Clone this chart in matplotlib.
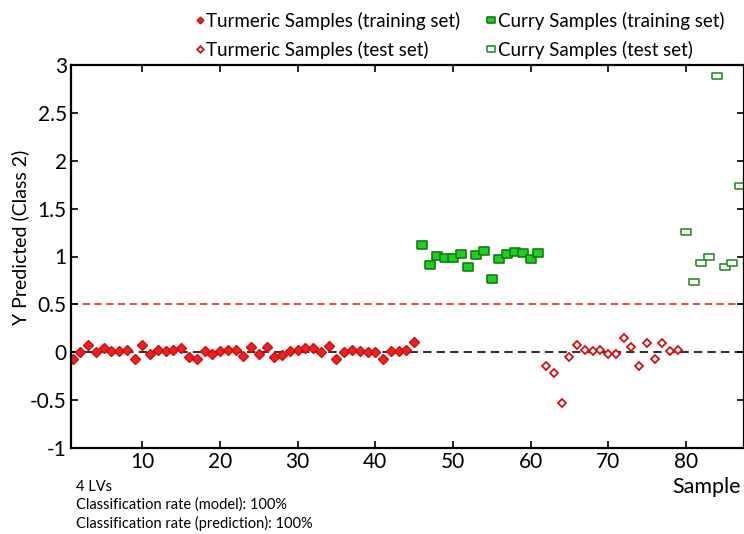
import numpy as np
import matplotlib
matplotlib.use('Agg')
import matplotlib.pyplot as plt
from matplotlib.ticker import MultipleLocator, FuncFormatter

plt.rcParams['font.family'] = ['Lato', 'DejaVu Sans']
plt.rcParams['axes.unicode_minus'] = False

# Kurkuma, Trainingsset (Proben 1-45)
tur_train_x = np.arange(1, 46)
tur_train_y = [-0.066, 0.0, 0.08, 0.0, 0.04, 0.014, 0.014, 0.02, -0.066, 0.073,
               -0.014, 0.028, 0.014, 0.028, 0.045, -0.049, -0.066, 0.014, -0.014, 0.014,
               0.028, 0.02, -0.038, 0.056, -0.02, 0.056, -0.049, -0.031, 0.014, 0.028,
               0.045, 0.04, 0.0, 0.066, -0.066, 0.0, 0.02, 0.01, 0.0, 0.0,
               -0.066, 0.01, 0.01, 0.028, 0.108]

# Curry, Trainingsset (Proben 46-61)
cur_train_x = np.arange(46, 62)
cur_train_y = [1.125, 0.909, 1.003, 0.989, 0.989, 1.023, 0.895, 1.016, 1.062, 0.77,
               0.971, 1.023, 1.048, 1.034, 0.971, 1.041]

# Kurkuma, Testset (Proben 62-79)
tur_test_x = np.arange(62, 80)
tur_test_y = [-0.143, -0.216, -0.526, -0.045, 0.08, 0.028, 0.01, 0.028, -0.021, -0.021,
              0.15, 0.056, -0.143, 0.101, -0.07, 0.094, 0.01, 0.02]

# Curry, Testset (Proben 80-87)
cur_test_x = np.arange(80, 88)
cur_test_y = [1.253, 0.731, 0.93, 0.999, 2.89, 0.895, 0.937, 1.737]

x_ticks = [10, 20, 30, 40, 50, 60, 70, 80]

# Rechteck-Marker (breiter als hoch)
rect = [(-1.3, -0.9), (1.3, -0.9), (1.3, 0.9), (-1.3, 0.9), (-1.3, -0.9)]

fig = plt.figure(figsize=(7.44, 5.34), dpi=100)
ax = fig.add_axes([71/744, 1 - 448/534, (744 - 71)/744, (448 - 65)/534])

ax.axhline(0.5, color='#ff3030', lw=1.3, ls=(0, (4, 2.5)), zorder=1)
ax.axhline(0, color='#333333', lw=1.5, ls=(0, (4, 2.5)), zorder=1)

ax.plot(tur_train_x, tur_train_y, ls='none', marker='D', ms=4.6,
        mfc='#f02020', mec='#c81010', mew=1.0, label='Turmeric Samples (training set)')
ax.plot(tur_test_x, tur_test_y, ls='none', marker='D', ms=4.4,
        mfc='white', mec='#d01010', mew=1.3, label='Turmeric Samples (test set)')
ax.plot(cur_train_x, cur_train_y, ls='none', marker=rect, ms=7.5,
        mfc='#22cc22', mec='#0f7f0f', mew=1.2, label='Curry Samples (training set)')
ax.plot(cur_test_x, cur_test_y, ls='none', marker=rect, ms=7.0,
        mfc='white', mec='#2e8b2e', mew=1.2, label='Curry Samples (test set)')

ax.set_xlim(0.8, 87.5)
ax.set_ylim(-1, 3)
ax.set_xticks(x_ticks)
ax.yaxis.set_major_locator(MultipleLocator(0.5))
ax.yaxis.set_major_formatter(FuncFormatter(lambda v, p: '%g' % v))

ax.tick_params(direction='in', top=True, right=True, length=5, width=1.2,
               labelsize=15, pad=3)
for s in ax.spines.values():
    s.set_linewidth(1.6)

fig.text(20/744, 1 - 237/534, 'Y Predicted (Class 2)', rotation=90,
         ha='center', va='center', fontsize=14)
fig.text(741/744, 1 - 487/534, 'Sample', ha='right', va='center', fontsize=15.5)
fig.text(76/744, 1 - 487/534, '4 LVs', ha='left', va='center', fontsize=10.5)
fig.text(76/744, 1 - 505/534, 'Classification rate (model): 100%',
         ha='left', va='center', fontsize=10.5)
fig.text(76/744, 1 - 523/534, 'Classification rate (prediction): 100%',
         ha='left', va='center', fontsize=10.5)

fig.legend(loc='upper left', bbox_to_anchor=(195/744, 1 - 11.5/534), ncol=2,
           frameon=False, fontsize=13.5, markerscale=0.75, handlelength=0.5,
           handletextpad=0.1, columnspacing=1.4, labelspacing=0.6, borderpad=0,
           borderaxespad=0)

fig.savefig('out.png', dpi=100)
